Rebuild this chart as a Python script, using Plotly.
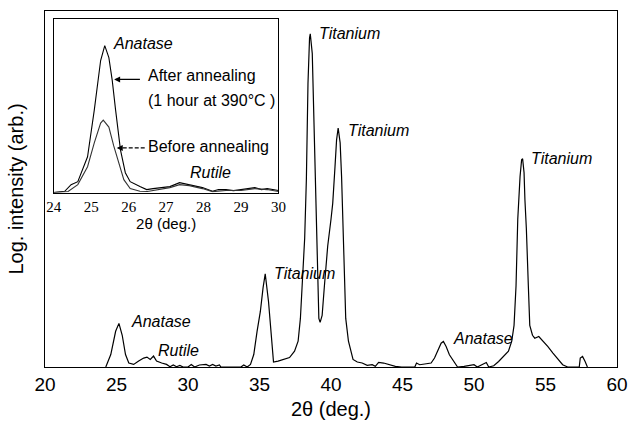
import plotly.graph_objects as go

# ---- main XRD pattern (2theta in deg, log intensity in arbitrary units) ----
main_x = [24.25, 24.6, 24.94, 25.17, 25.4, 25.63, 25.86, 26.2, 26.55, 26.9, 27.13, 27.36,
          27.59, 27.8, 28.16, 28.5, 28.74, 28.97, 29.2, 29.43, 29.66, 30.0, 30.23, 30.46,
          30.8, 31.03, 31.26, 31.5, 31.72, 31.95, 32.2, 32.3, 33.7, 33.9, 34.14, 34.37,
          34.6, 34.83, 35.06, 35.25, 35.4, 35.63, 35.8, 35.98, 36.3, 36.67, 37.1, 37.45,
          37.7, 37.86, 38.0, 38.16, 38.28, 38.39, 38.5, 38.55, 38.69, 38.78, 38.9, 38.97,
          39.05, 39.15, 39.24, 39.38, 39.54, 39.77, 40.0, 40.12, 40.28, 40.39, 40.5, 40.64,
          40.74, 40.82, 40.92, 41.03, 41.22, 41.38, 41.54, 41.84, 42.18, 42.53, 42.88, 43.1,
          43.33, 43.68, 44.02, 44.5, 44.94, 45.86, 45.98, 46.2, 46.55, 47.0, 47.24, 47.47,
          47.7, 47.86, 48.05, 48.28, 48.58, 48.85, 49.31, 49.66, 50.0, 50.23, 50.46, 50.86,
          51.03, 51.38, 51.72, 52.07, 52.41, 52.64, 52.8, 52.94, 53.06, 53.22, 53.33, 53.4,
          53.5, 53.56, 53.66, 53.8, 53.9, 54.09, 54.25, 54.53, 54.83, 55.17, 55.52, 55.86,
          56.2, 56.55, 57.36, 57.43, 57.59, 57.77, 57.93]
main_y = [0, 12.6, 36, 44, 32, 12.6, 4, 2.6, 6, 9, 10, 7.6,
          11, 6, 4, 2.6, 0.3, 2, 0.3, 1.6, 0, 0, 2.6, 0,
          2, 2, 2.6, 1, 2.6, 1, 2, 0, 0, 2, 0, 2.6,
          12.6, 36, 56, 80, 94, 66, 32, 5, 6, 7.6, 9.5, 16,
          26, 49, 82, 130, 190, 286, 332, 336, 316, 262, 190, 140,
          85, 49, 45, 52, 82, 122, 149, 165, 202, 229, 241, 226,
          192, 150, 82, 49, 26, 16, 7.6, 5, 4, 1.6, 2.3, 0.7,
          4.6, 4, 2.3, 0.7, 0, 0, 4, 2.3, 3, 4, 9, 16,
          24, 25.7, 20.6, 12.3, 5.6, 0, 0.7, 1.6, 2.3, 0, 1.6, 4.6,
          0, 1.3, 5.6, 10.6, 16, 26, 42, 82, 149, 192, 209, 210,
          196, 169, 140, 82, 42, 32, 29, 30.7, 26, 20.6, 14, 7.6,
          2.3, 0, 0, 9, 10.6, 5.6, 0]

# ---- inset: anatase (101) region before / after annealing ----
after_x = [24.0, 24.29, 24.46, 24.64, 24.9, 25.08, 25.25, 25.36, 25.47, 25.56, 25.65, 25.78,
           25.91, 26.04, 26.3, 26.48, 26.65, 26.83, 27.1, 27.36, 27.62, 27.97, 28.24, 28.4,
           28.6, 28.8, 29.0, 29.2, 29.37, 29.55, 29.7, 29.85, 30.0]
after_y = [0, 1.3, 8, 11, 36, 83, 133, 148, 136, 113, 83, 43,
           20, 11, 6, 3, 4, 5, 6, 10, 8, 5, 1.3, 3,
           3, 2, 3, 4, 5, 3, 4, 3, 2]
before_x = [24.0, 24.38, 24.64, 24.9, 25.08, 25.25, 25.32, 25.47, 25.6, 25.74, 25.87, 26.04,
            26.3, 26.5, 26.83, 27.1, 27.36, 27.62, 27.97, 28.24, 28.6, 29.0, 29.37, 29.7, 30.0]
before_y = [0, 1, 8, 26, 50, 70, 73, 66, 47, 30, 13, 4,
            1.3, 1, 3, 5, 8, 7, 4, 1, 2, 2, 4, 3, 1]

x_ticks = [20, 25, 30, 35, 40, 45, 50, 55, 60]
inset_ticks = [24, 25, 26, 27, 28, 29, 30]

SANS = "Liberation Sans, Arial, sans-serif"
SERIF = "Liberation Serif, Times New Roman, serif"
LBL = dict(family=SANS, size=16, color="black")

fig = go.Figure()
fig.add_trace(go.Scatter(x=main_x, y=main_y, mode="lines",
                         line=dict(color="black", width=1.2), xaxis="x", yaxis="y"))
fig.add_trace(go.Scatter(x=after_x, y=after_y, mode="lines",
                         line=dict(color="black", width=1.1), xaxis="x2", yaxis="y2"))
fig.add_trace(go.Scatter(x=before_x, y=before_y, mode="lines",
                         line=dict(color="#333333", width=1.1), xaxis="x2", yaxis="y2"))

ann = []
def label(x, y, text, ref="", italic=True):
    ann.append(dict(x=x, y=y, xref="x" + ref, yref="y" + ref, text=("<i>%s</i>" % text) if italic else text,
                    showarrow=False, xanchor="left", yanchor="middle", font=LBL))

# main labels
label(39.03, 336, "Titanium")
label(41.03, 239, "Titanium")
label(53.86, 210, "Titanium")
label(35.86, 94, "Titanium")
label(25.86, 46, "Anatase")
label(27.79, 17, "Rutile")
label(48.41, 29, "Anatase")
# inset labels
label(25.53, 150, "Anatase", "2")
label(26.45, 118, "After annealing", "2", italic=False)
label(26.45, 93, "(1 hour at 390°C )", "2", italic=False)
label(26.47, 46, "Before annealing", "2", italic=False)
label(27.58, 20, "Rutile", "2")

# arrows
ann.append(dict(x=25.61, y=114, xref="x2", yref="y2", ax=26.34, ay=114, axref="x2", ayref="y2",
                text="", showarrow=True, arrowhead=2, arrowsize=1, arrowwidth=1.2, arrowcolor="black"))
ann.append(dict(x=25.68, y=45, xref="x2", yref="y2", ax=25.86, ay=45, axref="x2", ayref="y2",
                text="", showarrow=True, arrowhead=2, arrowsize=1, arrowwidth=1.2, arrowcolor="black"))

shapes = [dict(type="line", xref="x2", yref="y2", x0=25.84, x1=26.47, y0=45, y1=45,
               line=dict(color="black", width=1.2, dash="4px,2px"))]

fig.update_layout(
    width=638, height=427,
    margin=dict(l=45, r=12, t=10, b=58),
    paper_bgcolor="white", plot_bgcolor="white",
    showlegend=False,
    annotations=ann, shapes=shapes,
    xaxis=dict(range=[20, 60], tickvals=x_ticks, ticks="", showline=True, mirror=True,
               linecolor="black", linewidth=1.2, showgrid=False, zeroline=False,
               tickfont=dict(family=SANS, size=19, color="black"),
               title=dict(text="2θ (deg.)", font=dict(family=SANS, size=20, color="black"), standoff=8)),
    yaxis=dict(range=[0, 359], showticklabels=False, ticks="", showline=True, mirror=True,
               linecolor="black", linewidth=1.2, showgrid=False, zeroline=False,
               title=dict(text="Log. intensity (arb.)", font=dict(family=SANS, size=20, color="black"),
                          standoff=14)),
    xaxis2=dict(domain=[0.0155, 0.408], anchor="y2", range=[24, 30], tickvals=inset_ticks, ticks="",
                showline=True, mirror=True, linecolor="black", linewidth=1, showgrid=False, zeroline=False,
                tickfont=dict(family=SERIF, size=15, color="black"),
                title=dict(text="2θ (deg.)", font=dict(family=SANS, size=15, color="black"), standoff=2)),
    yaxis2=dict(domain=[0.49, 0.978], anchor="x2", range=[0, 175], showticklabels=False, ticks="",
                showline=True, mirror=True, linecolor="black", linewidth=1, showgrid=False, zeroline=False),
)

fig.write_html("out.html")
